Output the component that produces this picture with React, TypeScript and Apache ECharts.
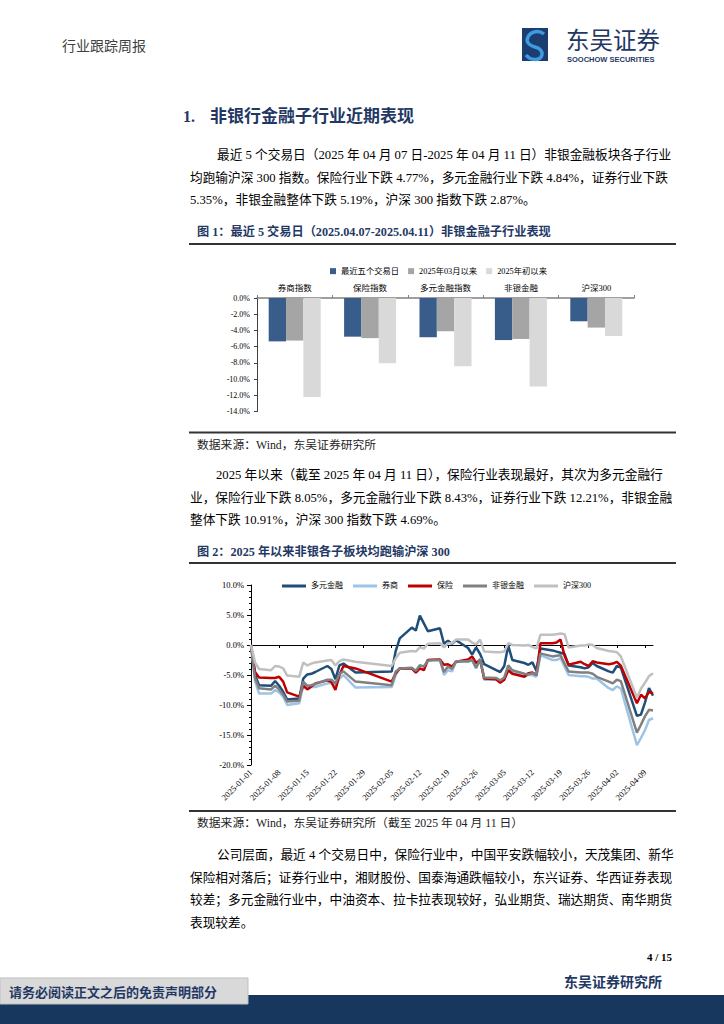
import React, { useEffect, useRef } from 'react';
import * as echarts from 'echarts';

const FONT = '"Liberation Serif", "Times New Roman", "Noto Sans CJK SC", serif';
const NAVY = '#1f3864';

// ---------- Figure 1 data ----------
const barCategories = ['券商指数', '保险指数', '多元金融指数', '非银金融', '沪深300'];
const barSeriesNames = ['最近五个交易日', '2025年03月以来', '2025年初以来'];
const recent5 = [-5.35, -4.77, -4.84, -5.19, -2.87];
const sinceMar = [-5.25, -4.95, -4.1, -5.05, -3.65];
const sinceYear = [-12.21, -8.05, -8.43, -10.91, -4.69];
const barColors = ['#385d8a', '#a5a5a5', '#d9d9d9'];

// ---------- Figure 2 data ----------
const lineDates = [
  '2025-01-01', '2025-01-02', '2025-01-03', '2025-01-06', '2025-01-07', '2025-01-08', '2025-01-09', '2025-01-10',
  '2025-01-13', '2025-01-14', '2025-01-15', '2025-01-16', '2025-01-17', '2025-01-20', '2025-01-21', '2025-01-22',
  '2025-01-23', '2025-01-24', '2025-01-27',
  '2025-02-05', '2025-02-06', '2025-02-07', '2025-02-10', '2025-02-11', '2025-02-12', '2025-02-13', '2025-02-14',
  '2025-02-17', '2025-02-18', '2025-02-19', '2025-02-20', '2025-02-21', '2025-02-24', '2025-02-25', '2025-02-26',
  '2025-02-27', '2025-02-28',
  '2025-03-03', '2025-03-04', '2025-03-05', '2025-03-06', '2025-03-07', '2025-03-10', '2025-03-11', '2025-03-12',
  '2025-03-13', '2025-03-14', '2025-03-17', '2025-03-18', '2025-03-19', '2025-03-20', '2025-03-21', '2025-03-24',
  '2025-03-25', '2025-03-26', '2025-03-27', '2025-03-28', '2025-03-31',
  '2025-04-01', '2025-04-02', '2025-04-03', '2025-04-07', '2025-04-08', '2025-04-09', '2025-04-10', '2025-04-11',
];
const lineNames = ['多元金融', '券商', '保险', '非银金融', '沪深300'];
const diversified = [
  0, -5.0, -6.7, -6.8, -6.0, -6.8, -7.8, -9.1, -8.9, -5.6, -4.9, -4.8, -4.5, -3.5, -4.0, -5.7, -3.4, -3.1, -4.6,
  -4.4, -1.0, 1.1, 2.9, 2.4, 4.9, 3.6, 2.3, 2.8, 0.2, 0.7, 0.2, 0.8, -0.5, -1.6, -0.4, -1.5, -3.2,
  -4.2, -4.5, -3.5, -0.1, -2.5, -3.0, -3.3, -2.9, -4.3, -0.6, -0.9, -1.1, -1.3, -1.5, -3.4, -3.7, -3.9, -3.7, -3.0, -3.5, -4.4,
  -4.6, -3.5, -3.77, -11.8, -11.6, -9.6, -7.2, -8.43,
];
const brokers = [
  0, -6.0, -8.1, -8.1, -7.5, -7.9, -8.6, -10.0, -9.7, -6.7, -7.2, -7.0, -7.0, -6.4, -6.3, -6.8, -5.6, -5.0, -7.1,
  -7.0, -5.0, -3.9, -3.9, -4.4, -3.3, -3.6, -2.5, -2.4, -5.0, -4.2, -4.4, -2.8, -2.8, -2.5, -3.9, -2.2, -5.8,
  -5.8, -6.0, -5.6, -3.9, -4.5, -5.2, -5.0, -5.0, -5.3, -1.7, -2.5, -2.5, -2.2, -3.6, -5.0, -5.2, -5.2, -5.3, -5.6, -5.6, -7.2,
  -7.5, -6.9, -7.25, -16.7, -15.5, -14.2, -12.5, -12.21,
];
const insurance = [
  0, -4.5, -5.4, -5.5, -5.5, -5.3, -6.1, -7.9, -8.6, -6.8, -7.4, -6.9, -6.4, -5.9, -6.2, -7.5, -5.0, -3.5, -3.9,
  -6.1, -4.7, -3.9, -3.9, -4.6, -3.9, -4.2, -2.5, -2.4, -3.3, -3.2, -3.6, -2.8, -2.4, -1.9, -3.0, -2.5, -5.6,
  -5.7, -6.3, -5.8, -4.2, -4.8, -5.3, -4.7, -4.6, -5.0, 0.3, 0.3, 0.4, 0.9, -1.8, -3.3, -2.8, -3.2, -3.5, -2.7, -2.9, -3.2,
  -3.1, -2.8, -3.44, -9.7, -8.3, -8.9, -7.8, -8.05,
];
const nonbank = [
  0, -5.5, -7.2, -7.4, -6.8, -7.4, -8.3, -9.4, -9.3, -6.1, -6.8, -6.7, -6.5, -5.8, -5.8, -6.4, -4.8, -4.4, -6.1,
  -6.7, -4.4, -3.9, -3.8, -4.3, -3.4, -3.6, -2.6, -2.5, -4.5, -3.6, -4.0, -2.7, -2.7, -2.5, -3.8, -2.4, -5.4,
  -5.5, -5.9, -5.4, -3.4, -4.2, -4.8, -4.9, -4.7, -5.0, -1.4, -1.9, -1.8, -1.7, -3.1, -4.4, -4.6, -4.6, -4.6, -4.8, -5.3, -6.1,
  -6.4, -5.8, -6.03, -14.6, -13.3, -11.9, -10.8, -10.91,
];
const hs300 = [
  0, -2.9, -4.0, -4.2, -3.5, -3.6, -3.9, -5.1, -5.3, -2.9, -3.4, -3.1, -2.9, -2.6, -2.5, -3.4, -2.7, -2.4, -2.8,
  -3.5, -2.2, -1.3, -1.0, -1.1, -0.4, -0.6, 0.2, 0.3, -0.4, 0.3, 0.3, 0.9, 0.9, 0.4, 0.1, 0.9, -1.1,
  -1.2, -1.2, -1.1, 0.3, 0.0, -0.1, 0.0, -0.3, -0.6, 1.7, 1.7, 1.8, 1.9, 1.8, -0.4, -0.1, -0.1, 0.1, 0.0, -0.5, -1.0,
  -1.1, -1.2, -1.9, -8.8, -7.3, -6.3, -5.2, -4.69,
];
const lineColors = ['#1f4e79', '#9dc3e6', '#c00000', '#808080', '#c0c0c0'];
const weekTickDates = [
  '2025-01-01', '2025-01-08', '2025-01-15', '2025-01-22', '2025-01-29', '2025-02-05', '2025-02-12', '2025-02-19',
  '2025-02-26', '2025-03-05', '2025-03-12', '2025-03-19', '2025-03-26', '2025-04-02', '2025-04-09',
];
const lastDate = '2025-04-11';

// ---------- Page texts ----------
const para1 = [
  '最近 5 个交易日（2025 年 04 月 07 日-2025 年 04 月 11 日）非银金融板块各子行业',
  '均跑输沪深 300 指数。保险行业下跌 4.77%，多元金融行业下跌 4.84%，证券行业下跌',
  '5.35%，非银金融整体下跌 5.19%，沪深 300 指数下跌 2.87%。',
];
const para2 = [
  '2025 年以来（截至 2025 年 04 月 11 日），保险行业表现最好，其次为多元金融行',
  '业，保险行业下跌 8.05%，多元金融行业下跌 8.43%，证券行业下跌 12.21%，非银金融',
  '整体下跌 10.91%，沪深 300 指数下跌 4.69%。',
];
const para3 = [
  '公司层面，最近 4 个交易日中，保险行业中，中国平安跌幅较小，天茂集团、新华',
  '保险相对落后；证券行业中，湘财股份、国泰海通跌幅较小，东兴证券、华西证券表现',
  '较差；多元金融行业中，中油资本、拉卡拉表现较好，弘业期货、瑞达期货、南华期货',
  '表现较差。',
];

function dayIndex(s: string) {
  const [y, m, d] = s.split('-').map(Number);
  return Math.round((Date.UTC(y, m - 1, d) - Date.UTC(2025, 0, 1)) / 86400000);
}

echarts.graphic.registerShape(
  'soochowS',
  echarts.graphic.extendPath('M 22 6 C 17 2 9 3 6 9 C 3 15 9 18 13 19 C 18 20 22 24 19 29 C 16 33 8 32 4 27', {})
);

function txt(text: string, x: number, y: number, size: number, o: any = {}) {
  return {
    type: 'text',
    x,
    y,
    silent: true,
    z: 10,
    style: {
      text,
      fill: o.color || '#000',
      font: `${o.bold ? 'bold ' : ''}${size}px ${o.family || FONT}`,
      textAlign: o.align || 'left',
      textVerticalAlign: 'middle',
    },
  };
}
function hline(x1: number, x2: number, y: number, w = 2, color = '#333') {
  return { type: 'line', silent: true, z: 10, shape: { x1, y1: y, x2, y2: y }, style: { stroke: color, lineWidth: w } };
}

export default function App() {
  const ref = useRef<HTMLDivElement>(null);
  useEffect(() => {
    if (!ref.current) return;
    const chart = echarts.init(ref.current, null, { renderer: 'svg', width: 724, height: 1024 });
    const lineValues = [diversified, brokers, insurance, nonbank, hs300];
    const weekIdx = weekTickDates.map(dayIndex);
    const maxDay = dayIndex(lastDate);

    const elements: any[] = [
      // header
      txt('行业跟踪周报', 62, 46, 14, { color: '#404040' }),
      { type: 'rect', silent: true, shape: { x: 522, y: 28, width: 26, height: 33 }, style: { fill: '#1b3d70' } },
      { type: 'soochowS', silent: true, x: 522, y: 28, style: { fill: 'none', stroke: '#3f9be0', lineWidth: 3.5 } },
      txt('东吴证券', 566, 38.5, 23.5, { color: NAVY, family: '"Noto Sans CJK SC", sans-serif' }),
      txt('SOOCHOW SECURITIES', 567, 59, 7.5, { color: NAVY, bold: true, family: '"Liberation Sans", sans-serif' }),
      // section title
      txt('1.', 183, 116, 16, { color: NAVY, bold: true }),
      txt('非银行金融子行业近期表现', 210, 116, 17, { color: NAVY, bold: true }),
      // paragraph 1
      txt(para1[0], 217, 155, 12.7),
      txt(para1[1], 190, 178, 12.7),
      txt(para1[2], 190, 200, 12.7),
      // figure 1 frame
      txt('图 1：最近 5 交易日（2025.04.07-2025.04.11）非银金融子行业表现', 197, 232, 12.2, { color: NAVY, bold: true }),
      hline(189, 676, 244),
      hline(189, 676, 432.5),
      txt('数据来源：Wind，东吴证券研究所', 197, 445, 11.8, { color: '#222' }),
      // paragraph 2
      txt(para2[0], 216, 475, 12.7),
      txt(para2[1], 190, 498, 12.7),
      txt(para2[2], 190, 520, 12.7),
      // figure 2 frame
      txt('图 2：2025 年以来非银各子板块均跑输沪深 300', 197, 552, 12.2, { color: NAVY, bold: true }),
      hline(189, 676, 563),
      hline(189, 676, 811),
      txt('数据来源：Wind，东吴证券研究所（截至 2025 年 04 月 11 日）', 197, 823, 11.8, { color: '#222' }),
      // paragraph 3
      txt(para3[0], 217, 855, 12.7),
      txt(para3[1], 190, 877.5, 12.7),
      txt(para3[2], 190, 900, 12.7),
      txt(para3[3], 190, 923, 12.7),
      // footer
      txt('4 / 15', 672, 957, 11, { bold: true, align: 'right' }),
      txt('东吴证券研究所', 662, 982, 14, { color: NAVY, bold: true, align: 'right' }),
      { type: 'rect', silent: true, z: 5, shape: { x: 0, y: 995, width: 724, height: 29 }, style: { fill: '#17375e' } },
      { type: 'rect', silent: true, z: 6, shape: { x: 0, y: 978, width: 248, height: 26 }, style: { fill: '#d9d9d9', stroke: '#bfbfbf', lineWidth: 1 } },
      txt('请务必阅读正文之后的免责声明部分', 9, 992, 13, { color: NAVY, bold: true }),
    ];

    const option: any = {
      animation: false,
      backgroundColor: '#ffffff',
      textStyle: { fontFamily: FONT },
      graphic: { elements },
      legend: [
        {
          data: barSeriesNames,
          left: 325,
          top: 262,
          icon: 'rect',
          itemWidth: 6,
          itemHeight: 6,
          itemGap: 9,
          textStyle: { fontSize: 8.3, color: '#000', fontFamily: FONT },
        },
        {
          data: lineNames,
          left: 277,
          top: 577,
          icon: 'rect',
          itemWidth: 24,
          itemHeight: 3,
          itemGap: 10,
          textStyle: { fontSize: 8, color: '#000', fontFamily: FONT },
        },
      ],
      grid: [
        { left: 257, top: 298, width: 377, height: 113.5, containLabel: false, outerBoundsMode: 'none' },
        { left: 251, top: 585, width: 402, height: 180, containLabel: false, outerBoundsMode: 'none' },
      ],
      xAxis: [
        {
          type: 'category',
          gridIndex: 0,
          position: 'top',
          data: barCategories,
          axisLine: { onZero: false, lineStyle: { color: '#808080', width: 1.5 } },
          axisTick: { show: true, inside: false, length: 3, alignWithLabel: false, lineStyle: { color: '#808080' } },
          axisLabel: { fontSize: 8.5, color: '#000', margin: 6, fontFamily: FONT, interval: 0 },
          splitLine: { show: false },
        },
        {
          type: 'value',
          gridIndex: 1,
          position: 'bottom',
          min: 0,
          max: maxDay,
          interval: 7,
          axisLine: { onZero: true, lineStyle: { color: '#000', width: 1 } },
          axisTick: { show: true, inside: false, length: 3, customValues: weekIdx, lineStyle: { color: '#000' } },
          axisLabel: { show: false },
          splitLine: { show: false },
        },
        {
          type: 'value',
          gridIndex: 1,
          position: 'bottom',
          min: 0,
          max: maxDay,
          interval: 7,
          axisLine: { show: false, onZero: false },
          axisTick: { show: false },
          axisLabel: {
            show: true,
            customValues: weekIdx,
            rotate: 45,
            margin: 6,
            fontSize: 8.5,
            color: '#000',
            fontFamily: FONT,
            formatter: (v: number) => {
              const i = weekIdx.indexOf(Math.round(v));
              return i >= 0 ? weekTickDates[i] : '';
            },
          },
          splitLine: { show: false },
        },
      ],
      yAxis: [
        {
          type: 'value',
          gridIndex: 0,
          min: -14,
          max: 0,
          interval: 2,
          axisLine: { show: true, onZero: false, lineStyle: { color: '#404040', width: 1 } },
          axisTick: { show: true, length: 3, lineStyle: { color: '#404040' } },
          axisLabel: { fontSize: 8, color: '#000', margin: 7, fontFamily: FONT, formatter: (v: number) => v.toFixed(1) + '%' },
          splitLine: { show: false },
        },
        {
          type: 'value',
          gridIndex: 1,
          min: -20,
          max: 10,
          interval: 5,
          axisLine: { show: true, onZero: false, lineStyle: { color: '#000', width: 1 } },
          axisTick: { show: true, length: 4, lineStyle: { color: '#000' } },
          minorTick: { show: true, splitNumber: 5, length: 2, lineStyle: { color: '#000' } },
          axisLabel: { fontSize: 8.5, color: '#000', margin: 7, fontFamily: FONT, formatter: (v: number) => v.toFixed(1) + '%' },
          splitLine: { show: false },
        },
      ],
      series: [
        ...barSeriesNames.map((name, i) => ({
          type: 'bar',
          name,
          xAxisIndex: 0,
          yAxisIndex: 0,
          data: [recent5, sinceMar, sinceYear][i],
          barGap: '0%',
          barCategoryGap: '31%',
          itemStyle: { color: barColors[i] },
        })),
        ...lineNames.map((name, i) => ({
          type: 'line',
          name,
          xAxisIndex: 1,
          yAxisIndex: 1,
          data: lineDates.map((d, j) => [dayIndex(d), lineValues[i][j]]),
          showSymbol: false,
          symbol: 'none',
          lineStyle: { width: 2.5, color: lineColors[i] },
          itemStyle: { color: lineColors[i] },
          z: 3 + i,
        })),
      ],
    };
    chart.setOption(option);
    return () => chart.dispose();
  }, []);
  return (
    <div
      ref={ref}
      style={{ position: 'absolute', left: 0, top: 0, width: 724, height: 1024, background: '#fff' }}
    />
  );
}
